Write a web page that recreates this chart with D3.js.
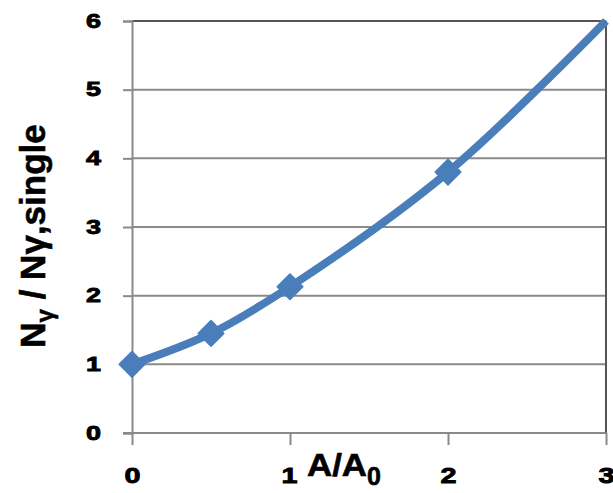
<!DOCTYPE html>
<html>
<head>
<meta charset="utf-8">
<script src="https://cdn.jsdelivr.net/npm/d3@7"></script>
<style>
  html, body { margin: 0; padding: 0; background: #fff; }
  svg { display: block; }
  text { font-family: "Liberation Sans", Arial, sans-serif; font-weight: bold; fill: #000; }
</style>
</head>
<body>
<svg id="chart" width="613" height="493"></svg>
<script>
// Ratio of photon yield versus area ratio
const xValues = [0, 0.5, 1, 2, 3];
const yValues = [1, 1.45, 2.13, 3.8, 6];
const markerCount = 4;            // measured points shown with diamonds
const xTicks = [0, 1, 2, 3];
const yTicks = [0, 1, 2, 3, 4, 5, 6];

const svg = d3.select("#chart");
const plotLeft = 132, plotRight = 606, plotTop = 21, plotBottom = 433;

const x = d3.scaleLinear().domain([0, 3]).range([plotLeft, plotRight]);
const y = d3.scaleLinear().domain([0, 6]).range([plotBottom, plotTop]);

// horizontal gridlines
svg.append("g").selectAll("line")
  .data(yTicks.filter(d => d > 0))
  .join("line")
  .attr("x1", plotLeft).attr("x2", plotRight)
  .attr("y1", d => y(d)).attr("y2", d => y(d))
  .attr("stroke", d => d === 6 ? "#555" : "#8a8a8a")
  .attr("stroke-width", 2);

// right border
svg.append("line")
  .attr("x1", plotRight).attr("x2", plotRight).attr("y1", plotTop).attr("y2", plotBottom)
  .attr("stroke", "#555").attr("stroke-width", 2);

// y axis
const yAxis = d3.axisLeft(y).tickValues(yTicks).tickSize(9).tickFormat(d3.format("d"));
const gy = svg.append("g").attr("transform", `translate(${plotLeft},0)`).call(yAxis)
  .attr("font-size", null).attr("font-family", null);
gy.select(".domain").attr("stroke", "#8a8a8a").attr("stroke-width", 2);
gy.selectAll(".tick line").attr("stroke", "#8a8a8a").attr("stroke-width", 2);
gy.selectAll(".tick text")
  .attr("x", -31)
  .attr("dy", "0.3em")
  .style("font-size", "21px")
  .attr("textLength", 15)
  .attr("lengthAdjust", "spacingAndGlyphs")
  .attr("fill", "#000")
  .attr("stroke", "#000").attr("stroke-width", 0.9);

// x axis
const xAxis = d3.axisBottom(x).tickValues(xTicks).tickSize(12).tickFormat(d3.format("d"));
const gx = svg.append("g").attr("transform", `translate(0,${plotBottom})`).call(xAxis)
  .attr("font-size", null).attr("font-family", null);
gx.select(".domain").attr("stroke", "#8a8a8a").attr("stroke-width", 2)
  .attr("d", `M${plotLeft - 9},0H${plotRight}`);
gx.selectAll(".tick line").attr("stroke", "#8a8a8a").attr("stroke-width", 2);
gx.selectAll(".tick text")
  .attr("y", 50).attr("dy", null)
  .style("font-size", "22px")
  .attr("textLength", 16)
  .attr("lengthAdjust", "spacingAndGlyphs")
  .attr("fill", "#000")
  .attr("stroke", "#000").attr("stroke-width", 0.9);
gx.selectAll(".tick").filter(d => d === 1).select("text").attr("dx", -1);

// data curve
const pts = xValues.map((v, i) => [v, yValues[i]]);
const line = d3.line()
  .x(d => x(d[0])).y(d => y(d[1]))
  .curve(d3.curveCatmullRom.alpha(0.5));
svg.append("path")
  .attr("d", line(pts))
  .attr("fill", "none")
  .attr("stroke", "#4a7ebb")
  .attr("stroke-width", 8)
  .attr("stroke-linejoin", "round");

// diamond markers
const diamond = d3.symbol().type(d3.symbolDiamond2).size(420);
svg.append("g").selectAll("path")
  .data(pts.slice(0, markerCount))
  .join("path")
  .attr("transform", d => `translate(${x(d[0])},${y(d[1])})`)
  .attr("d", diamond)
  .attr("fill", "#4a7ebb")
  .attr("stroke", "#4a7ebb")
  .attr("stroke-width", 1.5)
  .attr("stroke-linejoin", "round");

// y axis title
const yt = svg.append("text")
  .attr("transform", "translate(45,236) rotate(-90)")
  .attr("text-anchor", "middle")
  .style("font-size", "35px")
  .attr("stroke", "#000").attr("stroke-width", 0.6);
yt.append("tspan").text("N");
yt.append("tspan").text("γ").attr("dy", 8).style("font-size", "24px");
yt.append("tspan").text(" / Nγ,single").attr("dy", -8);

// x axis title
const xt = svg.append("text")
  .attr("x", 307).attr("y", 476)
  .style("font-size", "31px")
  .attr("stroke", "#000").attr("stroke-width", 0.6);
xt.append("tspan").text("A/A").attr("textLength", 60).attr("lengthAdjust", "spacingAndGlyphs");
xt.append("tspan").text("0").attr("dy", 9).style("font-size", "25px");
</script>
</body>
</html>
